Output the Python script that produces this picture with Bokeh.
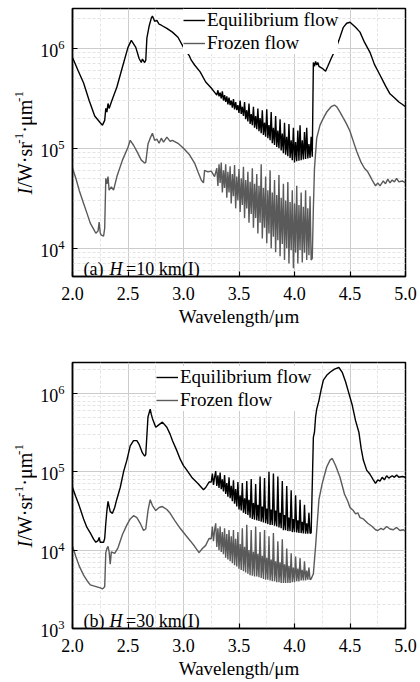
from math import pi
from bokeh.plotting import figure
from bokeh.layouts import column, row
from bokeh.models import (Range1d, FixedTicker, LogTickFormatter, NumeralTickFormatter,
                          Legend, LegendItem, Label)
from bokeh.embed import file_html
from bokeh.resources import INLINE

# ---------------- data ----------------
x_ticks = [2.0, 2.5, 3.0, 3.5, 4.0, 4.5, 5.0]
x_minor = [2.25, 2.75, 3.25, 3.75, 4.25, 4.75]
y_ticks_a = [1e4, 1e5, 1e6]
y_ticks_b = [1e3, 1e4, 1e5, 1e6]
y_minor = [2e3, 3e3, 4e3, 5e3, 6e3, 7e3, 8e3, 9e3,
           2e4, 3e4, 4e4, 5e4, 6e4, 7e4, 8e4, 9e4,
           2e5, 3e5, 4e5, 5e5, 6e5, 7e5, 8e5, 9e5,
           2e6, 3e6]

# (a) H = 10 km, equilibrium flow
wl_eq_a = [2.00, 2.05, 2.10, 2.15, 2.20, 2.25, 2.27, 2.29, 2.30, 2.31, 2.32, 2.33, 2.35, 2.40,
           2.45, 2.50, 2.53, 2.57, 2.60, 2.62, 2.63, 2.65, 2.66, 2.67, 2.69, 2.71, 2.72, 2.74,
           2.76, 2.78, 2.80, 2.85, 2.90, 2.95, 3.00, 3.05, 3.07, 3.10, 3.15, 3.20, 3.25,
           3.30, 3.31, 3.32, 3.33, 3.34, 3.35, 3.36, 3.37, 3.38, 3.39, 3.40, 3.41, 3.42, 3.43,
           3.44, 3.45, 3.46, 3.47, 3.48, 3.49, 3.50, 3.51, 3.52, 3.53, 3.54, 3.55, 3.56, 3.57,
           3.58, 3.59, 3.60, 3.61, 3.62, 3.63, 3.64, 3.65, 3.66, 3.67, 3.68, 3.69, 3.70, 3.71,
           3.72, 3.73, 3.74, 3.75, 3.76, 3.77, 3.78, 3.79, 3.80, 3.81, 3.82, 3.83, 3.84, 3.85,
           3.86, 3.87, 3.88, 3.89, 3.90, 3.91, 3.92, 3.93, 3.94, 3.95, 3.96, 3.97, 3.98, 3.99,
           4.00, 4.01, 4.02, 4.03, 4.04, 4.05, 4.06, 4.07, 4.08, 4.09, 4.10, 4.11, 4.12, 4.13,
           4.14, 4.15, 4.16,
           4.17, 4.18, 4.19, 4.20, 4.21, 4.22, 4.25, 4.28, 4.30, 4.33, 4.37, 4.40, 4.44,
           4.47, 4.50, 4.55, 4.59, 4.63, 4.68, 4.72, 4.77, 4.82, 4.86, 4.90, 4.94, 4.97, 5.00]
eq_a = [8.1e5, 6.0e5, 4.5e5, 3.0e5, 2.1e5, 1.8e5, 1.7e5, 1.9e5, 2.5e5, 2.3e5, 2.8e5, 2.5e5, 2.9e5, 4.1e5,
        6.5e5, 1.02e6, 1.2e6, 1.02e6, 7.9e5, 7.2e5, 7.8e5, 7.2e5, 7.6e5, 1.26e6, 1.66e6, 2.0e6, 2.1e6, 1.86e6,
        1.9e6, 1.74e6, 1.7e6, 1.58e6, 1.45e6, 1.29e6, 1.02e6, 8.5e5, 7.6e5, 6.8e5, 5.8e5, 4.6e5, 4.0e5,
        3.4e5, 3.8e5, 3.3e5, 3.6e5, 3.15e5, 3.7e5, 3.0e5, 3.4e5, 2.9e5, 3.3e5, 2.75e5, 3.2e5, 2.7e5, 3.0e5,
        2.55e5, 3.1e5, 2.45e5, 2.9e5, 2.4e5, 2.7e5, 2.25e5, 3.0e5, 2.2e5, 2.6e5, 2.1e5, 2.9e5, 1.95e5, 2.4e5,
        1.85e5, 2.8e5, 1.75e5, 2.2e5, 1.7e5, 2.6e5, 1.6e5, 2.1e5, 1.55e5, 2.5e5, 1.48e5, 2.0e5, 1.41e5, 2.4e5,
        1.36e5, 1.8e5, 1.3e5, 2.45e5, 1.26e5, 1.7e5, 1.2e5, 2.3e5, 1.12e5, 1.6e5, 1.08e5, 2.1e5, 1.03e5, 1.5e5,
        1.0e5, 1.95e5, 9.5e4, 1.4e5, 8.9e4, 1.8e5, 8.6e4, 1.3e5, 8.3e4, 1.75e5, 8.0e4, 1.2e5, 7.6e4, 1.6e5,
        7.2e4, 1.15e5, 7.4e4, 1.5e5, 7.5e4, 1.7e5, 7.6e4, 1.2e5, 7.7e4, 1.45e5, 7.8e4, 1.6e5, 7.9e4, 1.1e5,
        8.0e4, 1.3e5, 8.2e4,
        7.2e5, 6.6e5, 7.4e5, 6.8e5, 7.2e5, 6.6e5, 6.3e5, 5.9e5, 6.6e5, 7.9e5, 9.8e5, 1.2e6, 1.62e6,
        1.78e6, 1.82e6, 1.62e6, 1.45e6, 1.15e6, 9.1e5, 6.9e5, 5.4e5, 4.2e5, 3.5e5, 3.2e5, 2.9e5, 2.75e5, 2.6e5]

# (a) H = 10 km, frozen flow
wl_fr_a = [2.00, 2.03, 2.06, 2.10, 2.13, 2.16, 2.19, 2.21, 2.23, 2.24, 2.25, 2.26, 2.28, 2.29,
           2.30, 2.31, 2.32, 2.33, 2.35, 2.37, 2.40, 2.45, 2.50, 2.52, 2.55, 2.58, 2.62, 2.65,
           2.66, 2.68, 2.70, 2.72, 2.74, 2.76, 2.78, 2.80, 2.82, 2.85, 2.88, 2.90, 2.95, 3.00,
           3.05, 3.10, 3.13, 3.16, 3.18, 3.19, 3.22, 3.25, 3.28,
           3.30, 3.31, 3.32, 3.33, 3.34, 3.35, 3.36, 3.37, 3.38, 3.39, 3.40, 3.41, 3.42, 3.43,
           3.44, 3.45, 3.46, 3.47, 3.48, 3.49, 3.50, 3.51, 3.52, 3.53, 3.54, 3.55, 3.56, 3.57,
           3.58, 3.59, 3.60, 3.61, 3.62, 3.63, 3.64, 3.65, 3.66, 3.67, 3.68, 3.69, 3.70, 3.71,
           3.72, 3.73, 3.74, 3.75, 3.76, 3.77, 3.78, 3.79, 3.80, 3.81, 3.82, 3.83, 3.84, 3.85,
           3.86, 3.87, 3.88, 3.89, 3.90, 3.91, 3.92, 3.93, 3.94, 3.95, 3.96, 3.97, 3.98, 3.99,
           4.00, 4.01, 4.02, 4.03, 4.04, 4.05, 4.06, 4.07, 4.08, 4.09, 4.10, 4.11, 4.12, 4.13,
           4.14, 4.15, 4.16,
           4.17, 4.18, 4.20, 4.23, 4.26, 4.29, 4.33, 4.36, 4.38, 4.41, 4.44, 4.47, 4.50, 4.53,
           4.56, 4.60, 4.63, 4.66, 4.70, 4.73, 4.75, 4.77, 4.80, 4.82, 4.84, 4.86, 4.88, 4.90,
           4.92, 4.94, 4.97, 5.00]
fr_a = [6.3e4, 5.0e4, 3.8e4, 2.8e4, 2.24e4, 1.78e4, 1.55e4, 1.41e4, 1.48e4, 1.82e4, 1.41e4, 1.35e4, 1.32e4, 1.58e4,
        5.0e4, 4.4e4, 5.2e4, 3.8e4, 4.1e4, 3.8e4, 5.2e4, 7.6e4, 1.02e5, 1.2e5, 1.07e5, 9.3e4, 7.6e4, 7.1e4,
        7.2e4, 1.1e5, 1.26e5, 1.41e5, 1.2e5, 1.23e5, 1.12e5, 1.26e5, 1.15e5, 1.29e5, 1.17e5, 1.2e5, 1.12e5, 1.0e5,
        8.7e4, 7.1e4, 5.8e4, 4.8e4, 4.5e4, 6.0e4, 5.8e4, 5.9e4, 5.2e4,
        6.3e4, 4.2e4, 6.9e4, 4.5e4, 7.2e4, 3.6e4, 6.0e4, 4.0e4, 6.9e4, 3.2e4, 5.8e4, 3.6e4, 6.6e4, 2.8e4,
        5.5e4, 3.3e4, 6.8e4, 2.5e4, 5.2e4, 3.0e4, 6.2e4, 2.3e4, 5.0e4, 2.7e4, 6.5e4, 2.0e4, 4.8e4, 2.5e4,
        5.8e4, 1.8e4, 4.6e4, 2.2e4, 6.3e4, 1.6e4, 4.4e4, 2.0e4, 5.5e4, 1.4e4, 4.2e4, 1.8e4, 6.9e4, 1.25e4,
        4.0e4, 1.6e4, 5.2e4, 1.12e4, 3.8e4, 1.4e4, 6.0e4, 1.0e4, 3.6e4, 1.3e4, 4.8e4, 9.1e3, 3.4e4, 1.2e4,
        5.4e4, 8.3e3, 3.2e4, 1.1e4, 4.4e4, 7.6e3, 3.0e4, 1.0e4, 4.6e4, 7.0e3, 2.9e4, 9.5e3, 3.8e4, 6.3e3,
        2.8e4, 9.0e3, 4.2e4, 7.0e3, 2.7e4, 9.5e3, 3.6e4, 7.2e3, 2.6e4, 9.0e3, 3.8e4, 7.6e3, 2.5e4, 8.5e3,
        3.3e4, 7.6e3, 7.9e3,
        2.5e4, 6.3e4, 1.26e5, 1.7e5, 2.0e5, 2.3e5, 2.6e5, 2.7e5, 2.6e5, 2.3e5, 2.0e5, 1.74e5, 1.48e5, 1.17e5,
        9.3e4, 7.2e4, 6.3e4, 5.8e4, 4.8e4, 4.2e4, 4.5e4, 4.2e4, 4.7e4, 4.4e4, 4.9e4, 4.5e4, 4.8e4, 4.6e4,
        5.0e4, 4.6e4, 4.7e4, 4.5e4]

# (b) H = 30 km, equilibrium flow
wl_eq_b = [2.00, 2.03, 2.06, 2.10, 2.13, 2.16, 2.19, 2.21, 2.23, 2.24, 2.25, 2.28, 2.29, 2.30,
           2.31, 2.32, 2.33, 2.34, 2.36, 2.38, 2.40, 2.43, 2.46, 2.49, 2.52, 2.55, 2.58, 2.60,
           2.63, 2.65, 2.66, 2.68, 2.70, 2.71, 2.72, 2.75, 2.78, 2.81, 2.85, 2.88, 2.90, 2.94,
           2.97, 3.00, 3.03, 3.08, 3.13, 3.18, 3.20, 3.23,
           3.25, 3.26, 3.27, 3.28, 3.29, 3.30, 3.31, 3.32, 3.33, 3.34, 3.35, 3.36, 3.37, 3.38,
           3.39, 3.40, 3.41, 3.42, 3.43, 3.44, 3.45, 3.46, 3.47, 3.48, 3.49, 3.50, 3.51, 3.52,
           3.53, 3.54, 3.55, 3.56, 3.57, 3.58, 3.59, 3.60, 3.61, 3.62, 3.63, 3.64, 3.65, 3.66,
           3.67, 3.68, 3.69, 3.70, 3.71, 3.72, 3.73, 3.74, 3.75, 3.76, 3.77, 3.78, 3.79, 3.80,
           3.81, 3.82, 3.83, 3.84, 3.85, 3.86, 3.87, 3.88, 3.89, 3.90, 3.91, 3.92, 3.93, 3.94,
           3.95, 3.96, 3.97, 3.98, 3.99, 4.00, 4.01, 4.02, 4.03, 4.04, 4.05, 4.06, 4.07, 4.08,
           4.09, 4.10, 4.11, 4.12, 4.13, 4.14, 4.15,
           4.17, 4.18, 4.19, 4.20, 4.22, 4.24, 4.26, 4.29, 4.32, 4.36, 4.40, 4.43, 4.46, 4.49,
           4.52, 4.55, 4.58, 4.60, 4.62, 4.65, 4.68, 4.71, 4.73, 4.75, 4.77, 4.79, 4.81, 4.83,
           4.85, 4.88, 4.90, 4.92, 4.94, 4.97, 5.00]
eq_b = [6.3e4, 4.8e4, 3.7e4, 2.5e4, 1.95e4, 1.66e4, 1.38e4, 1.26e4, 1.32e4, 1.45e4, 1.26e4, 1.26e4, 1.41e4, 2.2e4,
        3.2e4, 4.2e4, 3.6e4, 3.1e4, 2.95e4, 3.5e4, 4.5e4, 6.3e4, 1.0e5, 1.41e5, 2.14e5, 2.5e5, 2.5e5, 2.24e5,
        1.74e5, 1.58e5, 1.66e5, 5.0e5, 6.3e5, 5.4e5, 4.8e5, 3.7e5, 4.0e5, 4.3e5, 3.7e5, 3.0e5, 2.5e5, 1.86e5,
        1.45e5, 1.2e5, 1.05e5, 8.3e4, 7.1e4, 5.9e4, 6.3e4, 7.4e4,
        7.4e4, 9.5e4, 6.8e4, 8.5e4, 1.02e5, 6.6e4, 9.0e4, 6.2e4, 9.8e4, 6.0e4, 8.0e4, 5.6e4, 9.1e4, 5.2e4,
        7.2e4, 4.8e4, 8.5e4, 4.6e4, 6.6e4, 4.2e4, 7.8e4, 3.9e4, 6.0e4, 3.6e4, 7.4e4, 3.3e4, 5.0e4, 3.2e4,
        7.2e4, 3.0e4, 4.6e4, 2.9e4, 7.6e4, 2.8e4, 4.4e4, 2.6e4, 8.1e4, 2.5e4, 4.0e4, 2.45e4, 7.0e4, 2.4e4,
        3.8e4, 2.35e4, 8.7e4, 2.3e4, 3.6e4, 2.25e4, 8.3e4, 2.2e4, 3.4e4, 2.15e4, 1.0e5, 2.1e4, 3.3e4, 2.1e4,
        9.5e4, 2.05e4, 3.2e4, 2.0e4, 8.7e4, 1.95e4, 3.0e4, 1.9e4, 7.6e4, 1.8e4, 2.8e4, 1.8e4, 6.6e4, 1.75e4,
        2.6e4, 1.75e4, 5.8e4, 1.7e4, 2.5e4, 1.7e4, 5.0e4, 1.68e4, 2.4e4, 1.66e4, 4.4e4, 1.65e4, 2.3e4, 1.63e4,
        3.8e4, 1.62e4, 2.2e4, 1.62e4, 3.0e4, 1.64e4, 1.66e4,
        2.75e5, 3.2e5, 5.0e5, 6.3e5, 8.1e5, 1.12e6, 1.48e6, 1.7e6, 1.86e6, 2.04e6, 2.14e6, 1.86e6, 1.41e6, 1.0e6,
        7.1e5, 4.5e5, 3.2e5, 2.0e5, 1.41e5, 1.05e5, 9.3e4, 7.9e4, 7.1e4, 7.9e4, 7.6e4, 8.5e4, 7.9e4, 8.9e4,
        8.3e4, 8.9e4, 8.5e4, 9.1e4, 8.5e4, 8.7e4, 8.5e4]

# (b) H = 30 km, frozen flow
wl_fr_b = [2.00, 2.03, 2.06, 2.10, 2.13, 2.16, 2.19, 2.22, 2.25, 2.27, 2.29, 2.30, 2.31, 2.32,
           2.33, 2.34, 2.35, 2.38, 2.41, 2.45, 2.49, 2.52, 2.55, 2.58, 2.61, 2.64, 2.66, 2.68,
           2.70, 2.72, 2.75, 2.78, 2.81, 2.85, 2.88, 2.92, 2.97, 3.02, 3.06, 3.10, 3.14, 3.17,
           3.20, 3.23,
           3.25, 3.26, 3.27, 3.28, 3.29, 3.30, 3.31, 3.32, 3.33, 3.34, 3.35, 3.36, 3.37, 3.38,
           3.39, 3.40, 3.41, 3.42, 3.43, 3.44, 3.45, 3.46, 3.47, 3.48, 3.49, 3.50, 3.51, 3.52,
           3.53, 3.54, 3.55, 3.56, 3.57, 3.58, 3.59, 3.60, 3.61, 3.62, 3.63, 3.64, 3.65, 3.66,
           3.67, 3.68, 3.69, 3.70, 3.71, 3.72, 3.73, 3.74, 3.75, 3.76, 3.77, 3.78, 3.79, 3.80,
           3.81, 3.82, 3.83, 3.84, 3.85, 3.86, 3.87, 3.88, 3.89, 3.90, 3.91, 3.92, 3.93, 3.94,
           3.95, 3.96, 3.97, 3.98, 3.99, 4.00, 4.01, 4.02, 4.03, 4.04, 4.05, 4.06, 4.07, 4.08,
           4.09, 4.10, 4.11, 4.12, 4.13, 4.14, 4.15,
           4.17, 4.19, 4.22, 4.25, 4.29, 4.32, 4.34, 4.37, 4.41, 4.45, 4.48, 4.50, 4.53, 4.55,
           4.57, 4.59, 4.62, 4.66, 4.70, 4.73, 4.75, 4.78, 4.80, 4.83, 4.86, 4.89, 4.92, 4.95,
           4.98, 5.00]
fr_b = [1.12e4, 8.3e3, 6.3e3, 4.8e3, 4.1e3, 3.6e3, 3.5e3, 3.4e3, 3.3e3, 3.2e3, 3.4e3, 9.3e3, 1.05e4, 1.12e4,
        9.5e3, 6.6e3, 9.5e3, 9.1e3, 1.07e4, 1.58e4, 2.1e4, 2.5e4, 2.75e4, 2.6e4, 2.2e4, 1.78e4, 1.86e4, 3.2e4,
        4.4e4, 3.7e4, 3.2e4, 3.5e4, 3.6e4, 3.3e4, 2.95e4, 2.4e4, 1.9e4, 1.55e4, 1.32e4, 1.12e4, 9.3e3, 1.05e4,
        1.15e4, 1.41e4,
        1.4e4, 2.0e4, 1.3e4, 1.8e4, 2.2e4, 1.1e4, 1.9e4, 1.0e4, 2.0e4, 9.5e3, 1.7e4, 8.9e3, 1.9e4, 8.0e3,
        1.6e4, 7.6e3, 1.8e4, 7.2e3, 1.5e4, 6.8e3, 1.8e4, 6.4e3, 1.4e4, 6.2e3, 1.7e4, 5.8e3, 1.2e4, 5.6e3,
        1.9e4, 5.4e3, 1.1e4, 5.2e3, 2.1e4, 5.0e3, 1.0e4, 4.8e3, 1.8e4, 4.7e3, 9.5e3, 4.6e3, 2.0e4, 4.6e3,
        9.0e3, 4.5e3, 1.7e4, 4.4e3, 8.5e3, 4.3e3, 1.8e4, 4.2e3, 8.0e3, 4.2e3, 1.5e4, 4.1e3, 7.6e3, 4.0e3,
        1.65e4, 4.0e3, 7.2e3, 3.9e3, 1.3e4, 3.9e3, 7.0e3, 3.8e3, 1.38e4, 3.8e3, 6.6e3, 3.8e3, 1.05e4, 3.8e3,
        6.3e3, 3.8e3, 9.1e3, 3.9e3, 6.0e3, 3.9e3, 8.3e3, 4.0e3, 5.8e3, 4.0e3, 7.9e3, 4.1e3, 5.6e3, 4.1e3,
        7.2e3, 4.1e3, 5.5e3, 4.2e3, 6.0e3, 4.2e3, 4.3e3,
        5.0e3, 1.12e4, 4.4e4, 7.1e4, 1.15e5, 1.41e5, 1.48e5, 1.2e5, 8.5e4, 5.2e4, 4.2e4, 3.5e4, 3.2e4, 2.9e4,
        3.0e4, 2.6e4, 2.5e4, 2.2e4, 2.0e4, 1.82e4, 1.78e4, 1.9e4, 1.82e4, 2.0e4, 1.86e4, 1.82e4, 1.95e4, 1.78e4,
        1.82e4, 1.74e4]

for a, b in [(wl_eq_a, eq_a), (wl_fr_a, fr_a), (wl_eq_b, eq_b), (wl_fr_b, fr_b)]:
    assert len(a) == len(b), (len(a), len(b))

series_names = ["Equilibrium flow", "Frozen flow"]
panel_tags = ["(a)", "(b)"]
panel_heights_km = ["=10 km(I)", "=30 km(I)"]
# y-axis title pieces: I / W·sr^-1 ·μm^-1   (text, style, superscript?)
y_title_parts = [("I", "italic", False), ("/W\u00b7sr", "normal", False), ("-1", "normal", True),
                 ("\u00b7\u03bcm", "normal", False), ("-1", "normal", True)]

# ---------------- styling ----------------
SERIF = "Liberation Serif"
EQ_COLOR = "#000000"
FR_COLOR = "#5a5a5a"
LABEL_W = 37
# advance (px) along the rotated title of each piece (Times metrics)
Y_TITLE_STEPS = [6.9, 43.9, 11.0, 30.8, 11.0]


def make_ylabel_fig(height, top, start):
    """Narrow strip left of a panel carrying the rotated y-axis title.
    Its frame is aligned with the panel frame, so `start` is measured from the frame bottom."""
    f = figure(width=LABEL_W, height=height, x_range=Range1d(0, 1), y_range=Range1d(0, 1),
               output_backend="svg", toolbar_location=None,
               x_axis_location=None, y_axis_location=None,
               min_border_left=0, min_border_right=0, min_border_top=top, min_border_bottom=54)
    f.grid.visible = False
    f.outline_line_color = None
    f.background_fill_color = "white"
    f.border_fill_color = "white"
    pos = start
    for (txt, style, sup), step in zip(y_title_parts, Y_TITLE_STEPS):
        f.add_layout(Label(x=18 if sup else 24, y=pos, x_units="screen", y_units="screen",
                           text=txt, text_font=SERIF, text_font_style=style,
                           text_font_size="13px" if sup else "20px", text_color="black",
                           angle=pi / 2, text_baseline="middle", text_align="left"))
        pos += step
    return f


def make_panel(wl_eq, eq, wl_fr, fr, y_lo, y_hi, y_ticks, height, top, legend_loc,
               tag, htxt):
    p = figure(width=420 - LABEL_W, height=height, x_range=Range1d(2.0, 5.0),
               y_range=Range1d(y_lo, y_hi), y_axis_type="log",
               output_backend="svg", toolbar_location=None,
               min_border_left=72 - LABEL_W, min_border_right=15,
               min_border_top=top, min_border_bottom=54)
    p.background_fill_color = "white"
    p.border_fill_color = "white"
    p.outline_line_color = "black"
    p.outline_line_width = 1.5

    p.xaxis.ticker = FixedTicker(ticks=x_ticks, minor_ticks=x_minor)
    p.xaxis.formatter = NumeralTickFormatter(format="0.0")
    p.yaxis.ticker = FixedTicker(ticks=y_ticks, minor_ticks=y_minor)
    p.yaxis.formatter = LogTickFormatter()

    for ax in (p.xaxis, p.yaxis):
        ax.axis_line_color = "black"
        ax.axis_line_width = 1.5
        ax.major_tick_in = 5
        ax.major_tick_out = 0
        ax.major_tick_line_color = "black"
        ax.major_tick_line_width = 1.2
        ax.minor_tick_line_color = None
        ax.major_label_text_font = SERIF
        ax.major_label_text_font_size = "18px"
        ax.major_label_text_color = "black"
    p.xaxis.major_label_standoff = 6
    p.yaxis.major_label_standoff = 4
    p.xaxis.axis_label = "Wavelength/\u03bcm"
    p.xaxis.axis_label_text_font = SERIF
    p.xaxis.axis_label_text_font_style = "normal"
    p.xaxis.axis_label_text_font_size = "19px"
    p.xaxis.axis_label_standoff = 3
    p.xaxis.axis_label_text_color = "black"

    for g in (p.xgrid, p.ygrid):
        g.grid_line_color = "#cccccc"
        g.grid_line_width = 1
        g.minor_grid_line_color = "#e4e4e4"
        g.minor_grid_line_dash = "3 2"

    r_fr = p.line(wl_fr, fr, line_color=FR_COLOR, line_width=1.4)
    r_eq = p.line(wl_eq, eq, line_color=EQ_COLOR, line_width=1.4)

    legend = Legend(items=[LegendItem(label=series_names[0], renderers=[r_eq]),
                           LegendItem(label=series_names[1], renderers=[r_fr])],
                    location=legend_loc)
    legend.label_text_font = SERIF
    legend.label_text_font_size = "19px"
    legend.label_text_color = "black"
    legend.glyph_width = 22
    legend.glyph_height = 20
    legend.label_height = 20
    legend.label_standoff = 2
    legend.spacing = 1
    legend.padding = 2
    legend.margin = 0
    legend.border_line_color = None
    legend.background_fill_color = "white"
    legend.background_fill_alpha = 1.0
    p.add_layout(legend, "center")

    # panel tag  "(a) H=10 km(I)"
    common = dict(x_units="screen", y_units="screen", text_font=SERIF,
                  text_font_size="18px", text_color="black", text_baseline="alphabetic")
    p.add_layout(Label(x=11, y=8, text=tag, **common))
    p.add_layout(Label(x=37, y=8, text="H", text_font_style="italic", **common))
    p.add_layout(Label(x=53.5, y=8, text=htxt, **common))
    return p


p1 = make_panel(wl_eq_a, eq_a, wl_fr_a, fr_a, 5.2e3, 2.5e6, y_ticks_a, 330, 8, (111, 222),
                panel_tags[0], panel_heights_km[0])
p2 = make_panel(wl_eq_b, eq_b, wl_fr_b, fr_b, 1.0e3, 2.48e6, y_ticks_b, 352, 32, (84, 217),
                panel_tags[1], panel_heights_km[1])
l1 = make_ylabel_fig(330, 8, 82)
l2 = make_ylabel_fig(352, 32, 81)

layout = column(row(l1, p1, spacing=0), row(l2, p2, spacing=0), spacing=0)
open("out.html", "w").write(file_html(layout, INLINE))
